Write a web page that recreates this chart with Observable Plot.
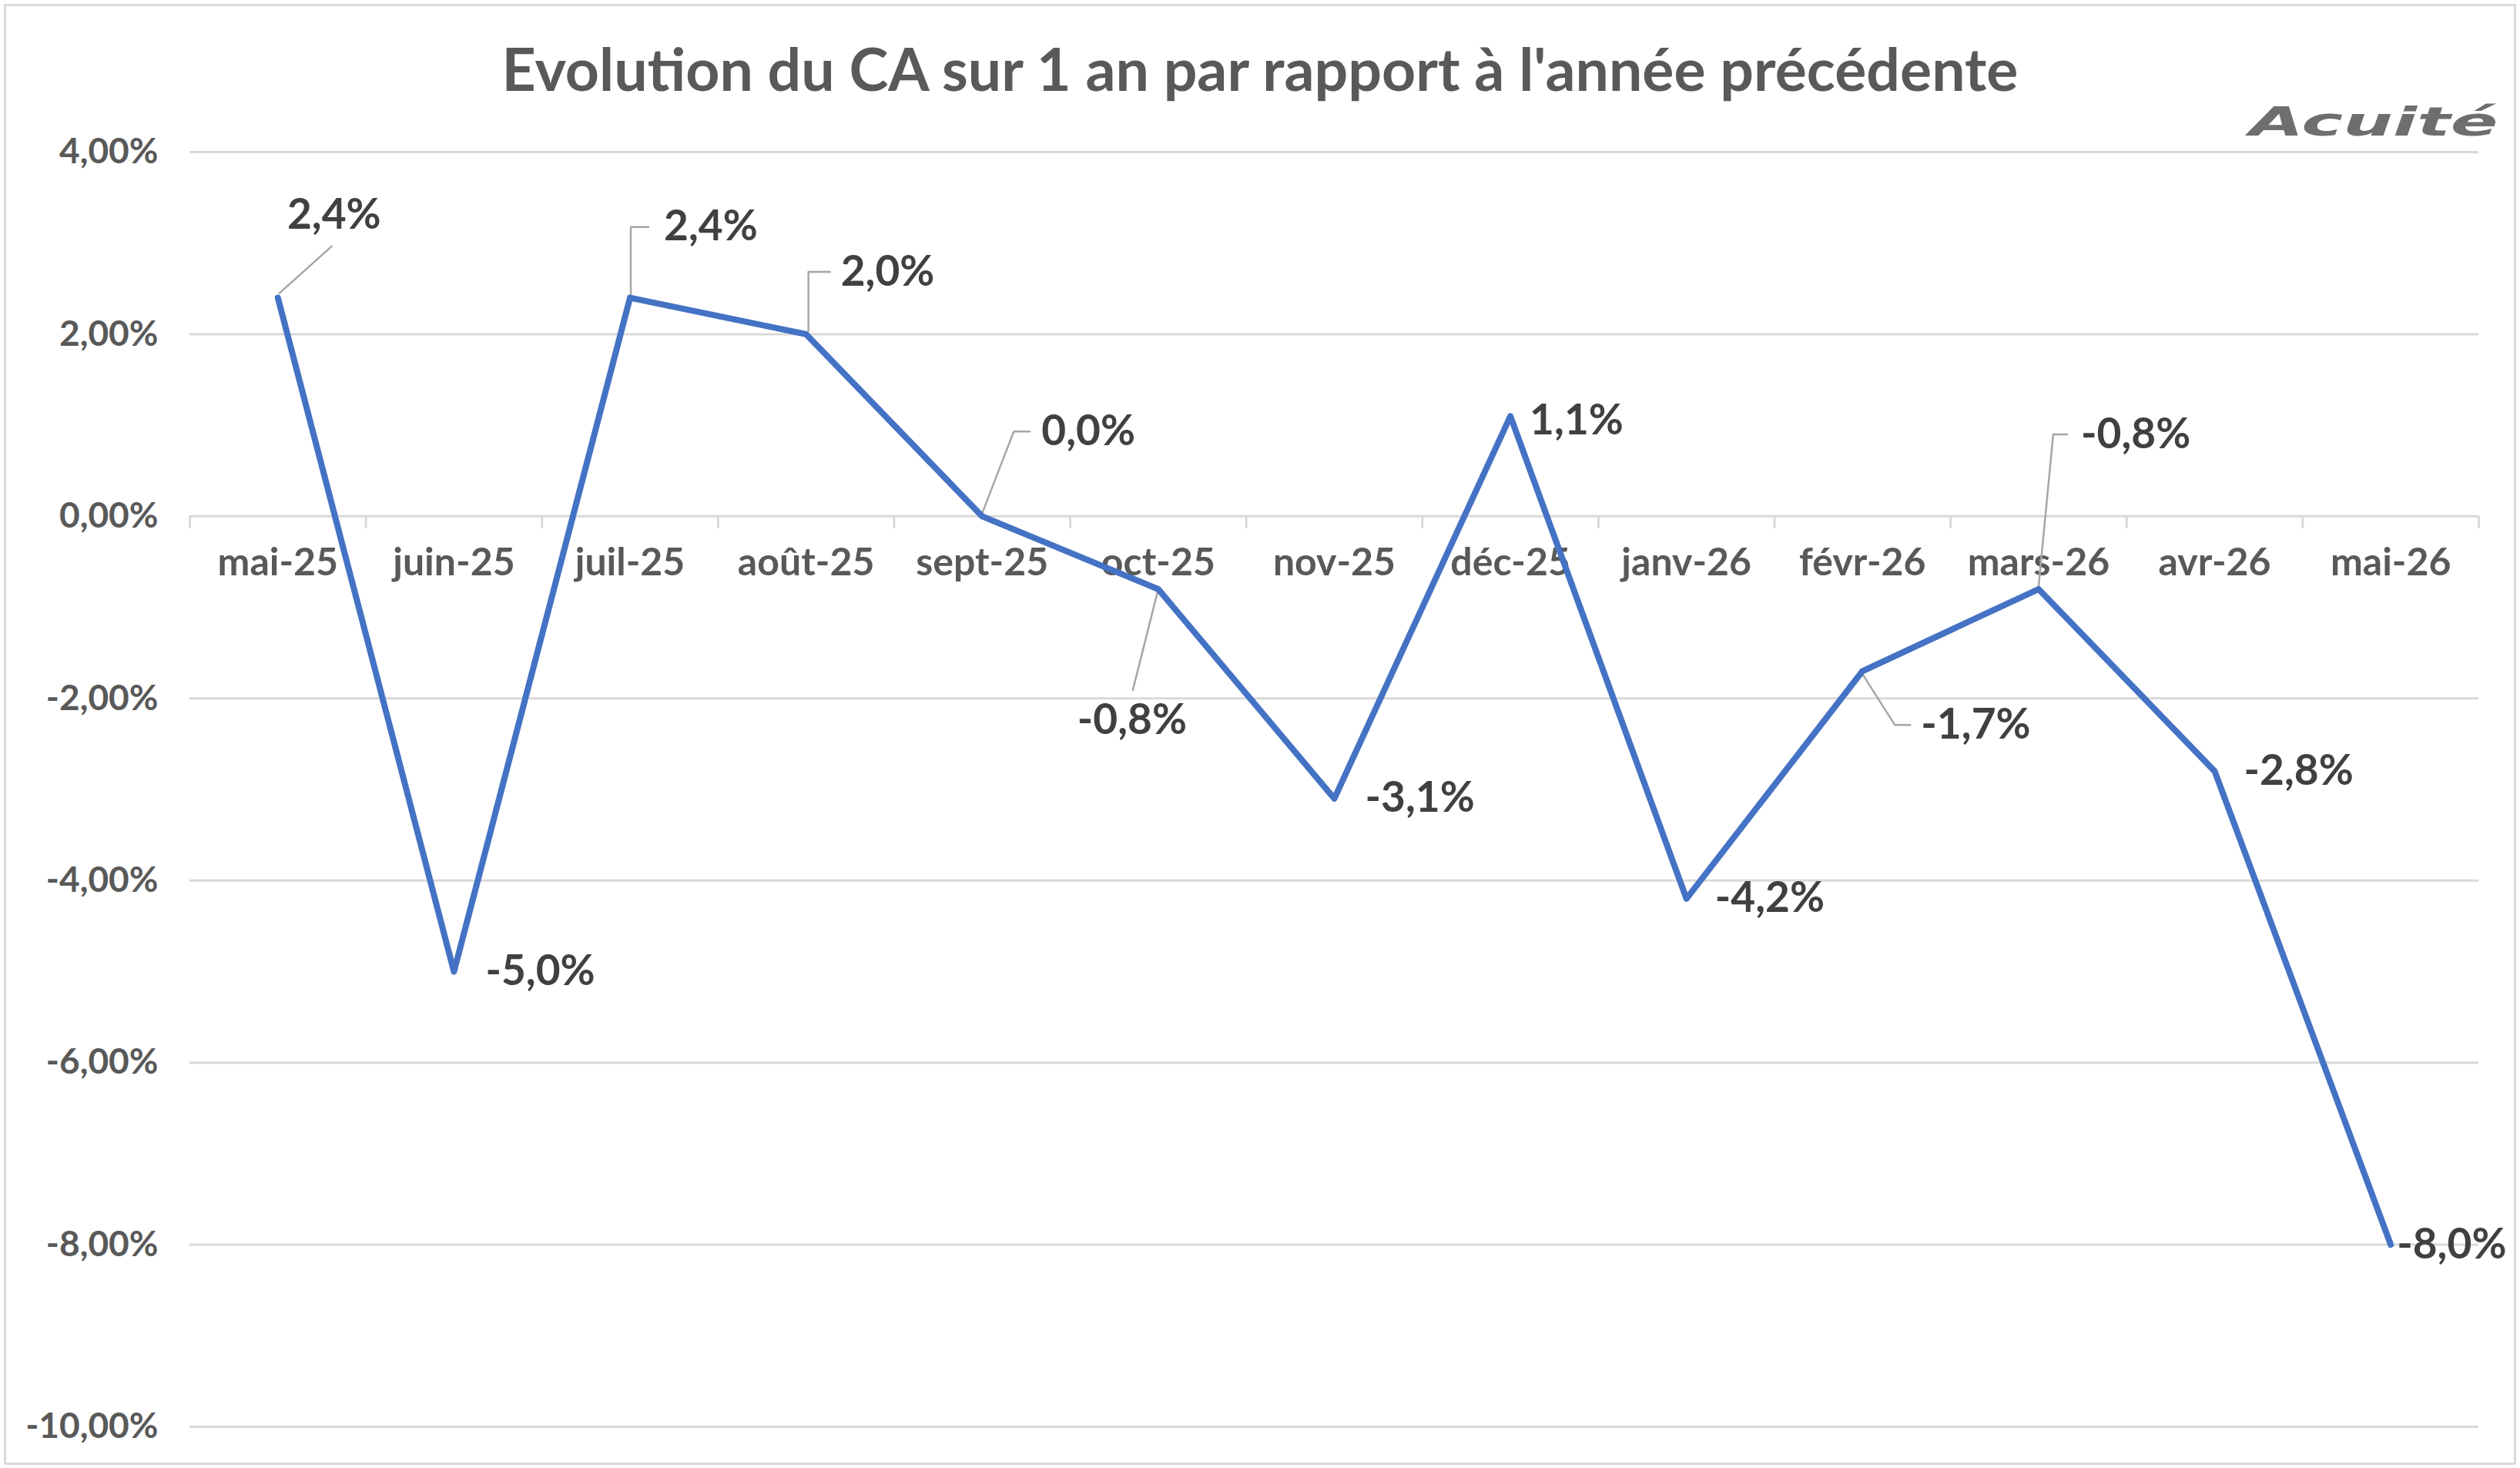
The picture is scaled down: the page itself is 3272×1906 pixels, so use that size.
<!DOCTYPE html>
<html>
<head>
<meta charset="utf-8">
<script src="https://cdn.jsdelivr.net/npm/d3@7"></script>
<script src="https://cdn.jsdelivr.net/npm/@observablehq/plot@0.6"></script>
<style>
  body { margin: 0; background: #fff; }
  #wrap { position: relative; width: 3272px; height: 1906px; background: #fff; overflow: hidden; font-family: Lato, "Open Sans", sans-serif; }
  #frame { position: absolute; left: 5px; top: 5px; width: 3262px; height: 1897px; border: 3px solid #d9d9d9; box-sizing: border-box; pointer-events: none; }
  #title { position: absolute; left: 0; top: 50px; width: 3272px; text-align: center; font-size: 77px; line-height: 1; font-weight: 700; color: #595959; white-space: nowrap; }
  #logo { position: absolute; right: 29px; top: 132px; font-family: "DejaVu Sans", sans-serif; font-size: 52px; line-height: 1; font-weight: 700; font-style: italic; color: #6e6e6e; transform: scaleX(1.75); transform-origin: right center; white-space: nowrap; }
  #chart { position: absolute; left: 0; top: 150px; }
</style>
</head>
<body>
<div id="wrap">
  <div id="title">Evolution du CA sur 1 an par rapport à l'année précédente</div>
  <div id="logo">Acuité</div>
  <div id="chart"></div>
  <div id="frame"></div>
</div>
<script>
// ---- data ----
const months = ["mai-25", "juin-25", "juil-25", "août-25", "sept-25", "oct-25", "nov-25", "déc-25", "janv-26", "févr-26", "mars-26", "avr-26", "mai-26"];
const values = [2.4, -5.0, 2.4, 2.0, 0.0, -0.8, -3.1, 1.1, -4.2, -1.7, -0.8, -2.8, -8.0];
const yTicks = [-10, -8, -6, -4, -2, 0, 2, 4];

// ---- label placement (pixel offsets from each point) ----
const labelLayout = [
  {anchor: "middle", dx: 73, dy: -107, leader: [[2, -6], [70, -67]]},
  {anchor: "start", dx: 41, dy: 0},
  {anchor: "start", dx: 44, dy: -92, leader: [[1, -3], [1, -92], [24, -92]]},
  {anchor: "start", dx: 45, dy: -81, leader: [[3, -4], [3, -81], [31, -81]]},
  {anchor: "start", dx: 77, dy: -110, leader: [[0, -4], [41, -110], [62, -110]]},
  {anchor: "middle", dx: -34, dy: 170, leader: [[-1, 4], [-33, 131]]},
  {anchor: "start", dx: 40, dy: 0},
  {anchor: "start", dx: 25, dy: 6},
  {anchor: "start", dx: 37, dy: 0},
  {anchor: "start", dx: 76, dy: 70, leader: [[0, 4], [42, 70], [62, 70]]},
  {anchor: "start", dx: 55, dy: -201, leader: [[0, -4], [19, -201], [37, -201]]},
  {anchor: "start", dx: 38, dy: 0},
  {anchor: "start", dx: 8, dy: 0}
];

// ---- layout ----
const W = 3272, H = 1756;
const mL = 246, mR = 54, mT = 47, mB = 54;
const xDomain = [-0.5, months.length - 0.5];
const yDomain = [-10, 4];
const kx = (W - mL - mR) / (xDomain[1] - xDomain[0]);
const ky = (H - mT - mB) / (yDomain[1] - yDomain[0]);

const fmtLabel = v => v.toFixed(1).replace(".", ",") + "%";
const fmtAxis = v => v.toFixed(2).replace(".", ",") + "%";

const data = values.map((v, i) => ({i, v, month: months[i], lay: labelLayout[i]}));
const labelRows = data.map(d => ({
  x: d.i + d.lay.dx / kx,
  y: d.v - d.lay.dy / ky,
  text: fmtLabel(d.v),
  anchor: d.lay.anchor
}));
const leaderRows = data.flatMap(d => (d.lay.leader || []).map(([px, py]) => ({
  k: d.i,
  x: d.i + px / kx,
  y: d.v - py / ky
})));
const boundaries = d3.range(months.length + 1).map(i => i - 0.5);

const chart = Plot.plot({
  width: W,
  height: H,
  marginTop: mT,
  marginBottom: mB,
  marginLeft: mL,
  marginRight: mR,
  x: {domain: xDomain, axis: null},
  y: {domain: yDomain},
  style: {fontFamily: 'Lato, "Open Sans", sans-serif', color: "#595959", background: "transparent", overflow: "visible"},
  marks: [
    Plot.ruleY(yTicks, {stroke: "#d9d9d9", strokeWidth: 3}),
    Plot.ruleX(boundaries, {x: d => d, y1: 0, y2: -16 / ky, stroke: "#d9d9d9", strokeWidth: 3}),
    Plot.axisY(yTicks, {tickSize: 0, tickPadding: 41, tickFormat: fmtAxis, label: null, fontSize: 46, fontWeight: 700, color: "#595959"}),
    Plot.text(months, {x: (d, i) => i, y: 0, text: d => d, dy: 77, lineAnchor: "bottom", fontSize: 50, fontWeight: 700, fill: "#595959"}),
    Plot.line(leaderRows, {x: "x", y: "y", z: "k", stroke: "#a6a6a6", strokeWidth: 2.5}),
    Plot.line(data, {x: "i", y: "v", stroke: "#4472C4", strokeWidth: 8, strokeLinejoin: "round", strokeLinecap: "round"}),
    Plot.text(labelRows.filter(d => d.anchor === "start"), {x: "x", y: "y", text: "text", textAnchor: "start", lineAnchor: "middle", fontSize: 55, fontWeight: 700, fill: "#404040"}),
    Plot.text(labelRows.filter(d => d.anchor === "middle"), {x: "x", y: "y", text: "text", textAnchor: "middle", lineAnchor: "middle", fontSize: 55, fontWeight: 700, fill: "#404040"})
  ]
});
document.getElementById("chart").appendChild(chart);
</script>
</body>
</html>
